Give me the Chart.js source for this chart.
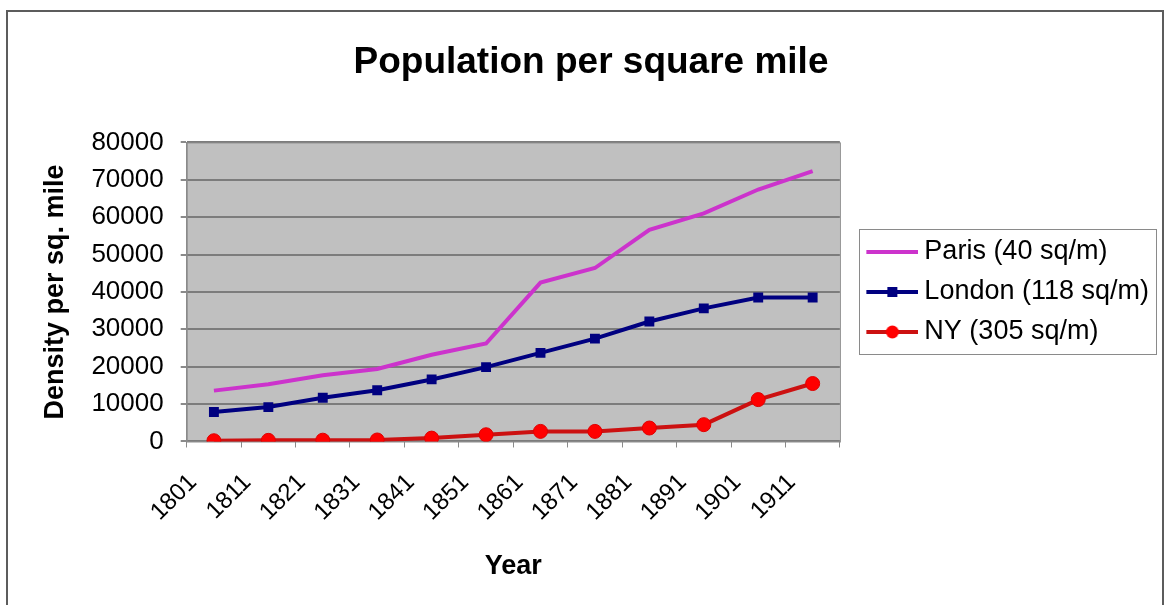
<!DOCTYPE html>
<html>
<head>
<meta charset="utf-8">
<title>Population per square mile</title>
<script src="https://cdn.jsdelivr.net/npm/chart.js@4.4.1/dist/chart.umd.min.js"></script>
<style>
    html, body { margin: 0; padding: 0; background: #fff; }
    .wrap { position: relative; width: 1165px; height: 605px; overflow: hidden; }
    .frame { position: absolute; left: 6px; top: 10px; width: 1154px; height: 640px; border: 2px solid #5c5c5c; }
    #density-chart { position: absolute; left: 0; top: 0; }
</style>
</head>
<body>
<div class="wrap">
    <div class="frame"></div>
    <canvas id="density-chart" width="1165" height="605"></canvas>
</div>
<script>
// Census years (category axis)
const years = ['1801', '1811', '1821', '1831', '1841', '1851', '1861', '1871', '1881', '1891', '1901', '1911'];

// Density per square mile
const parisDensity  = [13600, 15300, 17700, 19400, 23200, 26200, 42500, 46400, 56600, 61000, 67400, 72300];
const londonDensity = [7900, 9200, 11700, 13700, 16600, 19900, 23700, 27500, 32100, 35600, 38500, 38500];
const nyDensity     = [200, 300, 350, 400, 900, 1800, 2700, 2700, 3600, 4500, 11200, 15500];

const seriesLabels = ['Paris (40 sq/m)', 'London (118 sq/m)', 'NY (305 sq/m)'];

// Y axis: 0 .. 80000 by 10000
const yMin = 0;
const yMax = 80000;
const yStep = 10000;

(function() {
    'use strict';

    const FONT = 'Arial, "Liberation Sans", sans-serif';
    const SAMPLE_BOX = 58;   // legend box width given to Chart.js
    const SAMPLE_W = 73;     // legend sample canvas width (line sits in its right part)

    const DensityChart = {
        chart: null,

        /**
         * Initialize chart
         */
        init: function() {
            Chart.defaults.font.family = FONT;
            Chart.defaults.color = '#000';
            this.createChart();
        },

        /**
         * Legend sample: line with the series marker in the middle
         */
        legendSample: function(color, marker, fill) {
            const c = document.createElement('canvas');
            c.width = SAMPLE_W;
            c.height = 18;
            const g = c.getContext('2d');
            const x0 = SAMPLE_W - 52;
            const mid = x0 + 26;
            g.strokeStyle = color;
            g.lineWidth = 4;
            g.beginPath();
            g.moveTo(x0, 9);
            g.lineTo(SAMPLE_W, 9);
            g.stroke();
            if (marker === 'rect') {
                g.fillStyle = fill;
                g.fillRect(mid - 5, 4, 10, 10);
            } else if (marker === 'circle') {
                g.fillStyle = fill;
                g.beginPath();
                g.arc(mid, 9, 6.5, 0, Math.PI * 2);
                g.fill();
            }
            return c;
        },

        /**
         * Gray plot area + frame round the legend
         */
        decorPlugin: {
            id: 'excelDecor',
            beforeDraw: function(chart) {
                const a = chart.chartArea;
                const ctx = chart.ctx;
                ctx.save();
                ctx.fillStyle = '#c0c0c0';
                ctx.fillRect(a.left, a.top, a.right - a.left, a.bottom - a.top);
                ctx.restore();
            },
            beforeDatasetsDraw: function(chart) {
                const a = chart.chartArea;
                const ctx = chart.ctx;
                ctx.save();
                ctx.strokeStyle = '#8a8a8a';
                ctx.lineWidth = 1;
                ctx.strokeRect(a.left + 0.5, a.top + 0.5, a.right - a.left, a.bottom - a.top);
                ctx.restore();
            },
            afterDraw: function(chart) {
                const boxes = chart.legend && chart.legend.legendHitBoxes;
                if (!boxes || !boxes.length) return;
                let right = -Infinity;
                boxes.forEach(b => {
                    right = Math.max(right, b.left + b.width);
                });
                const left = chart.chartArea.right + 19;
                right = Math.min(right + 7, chart.width - 5);
                const top = boxes[0].top - 9;
                const last = boxes[boxes.length - 1];
                const bottom = last.top + last.height + 9;
                const ctx = chart.ctx;
                ctx.save();
                ctx.strokeStyle = '#8a8a8a';
                ctx.lineWidth = 1;
                ctx.strokeRect(Math.round(left) + 0.5, Math.round(top) + 0.5, Math.round(right - left), Math.round(bottom - top));
                ctx.restore();
            }
        },

        /**
         * Create the line chart
         */
        createChart: function() {
            const ctx = document.getElementById('density-chart');
            if (!ctx) return;

            const samples = [
                this.legendSample('#cc33cc', null, null),
                this.legendSample('#000080', 'rect', '#000080'),
                this.legendSample('#cc1111', 'circle', '#ff0000')
            ];

            this.chart = new Chart(ctx, {
                type: 'line',
                data: {
                    labels: years,
                    datasets: [{
                        label: seriesLabels[0],
                        data: parisDensity,
                        borderColor: '#cc33cc',
                        borderWidth: 4,
                        pointRadius: 0,
                        tension: 0
                    }, {
                        label: seriesLabels[1],
                        data: londonDensity,
                        borderColor: '#000080',
                        backgroundColor: '#000080',
                        borderWidth: 4,
                        pointStyle: 'rect',
                        pointRadius: 7,
                        pointBorderWidth: 0,
                        tension: 0
                    }, {
                        label: seriesLabels[2],
                        data: nyDensity,
                        borderColor: '#cc1111',
                        backgroundColor: '#ff0000',
                        pointBorderColor: '#e00000',
                        borderWidth: 4,
                        pointStyle: 'circle',
                        pointRadius: 7,
                        pointBorderWidth: 1,
                        tension: 0
                    }]
                },
                options: {
                    responsive: false,
                    animation: false,
                    events: [],
                    layout: {
                        padding: { left: 23, right: 6, top: 30, bottom: 6 }
                    },
                    plugins: {
                        title: {
                            display: true,
                            text: 'Population per square mile',
                            font: { size: 37, weight: 'bold' },
                            padding: { top: 11, bottom: 57 }
                        },
                        legend: {
                            position: 'right',
                            fullSize: false,
                            maxWidth: 360,
                            labels: {
                                usePointStyle: true,
                                pointStyleWidth: SAMPLE_BOX,
                                font: { size: 27 },
                                padding: 13,
                                generateLabels: function(chart) {
                                    return chart.data.datasets.map((ds, i) => ({
                                        text: ds.label,
                                        pointStyle: samples[i],
                                        datasetIndex: i,
                                        hidden: false,
                                        lineWidth: 0
                                    }));
                                }
                            }
                        },
                        tooltip: { enabled: false }
                    },
                    scales: {
                        x: {
                            type: 'category',
                            offset: true,
                            grid: {
                                offset: true,
                                drawOnChartArea: false,
                                drawTicks: true,
                                tickLength: 6,
                                tickColor: '#8a8a8a'
                            },
                            border: { color: '#8a8a8a', width: 1 },
                            ticks: {
                                minRotation: 45,
                                maxRotation: 45,
                                autoSkip: false,
                                padding: 21,
                                labelOffset: -21,
                                font: { size: 24 }
                            },
                            title: {
                                display: true,
                                text: 'Year',
                                font: { size: 27, weight: 'bold' },
                                padding: { top: 3, bottom: 16 }
                            }
                        },
                        y: {
                            min: yMin,
                            max: yMax,
                            grid: {
                                color: '#7c7c7c',
                                lineWidth: 2,
                                tickLength: 6,
                                tickColor: '#8a8a8a'
                            },
                            border: { color: '#8a8a8a', width: 1 },
                            ticks: {
                                stepSize: yStep,
                                padding: 17,
                                font: { size: 26 },
                                callback: value => String(value)
                            },
                            title: {
                                display: true,
                                text: 'Density per sq. mile',
                                font: { size: 27, weight: 'bold' },
                                padding: { top: 16, bottom: 3 }
                            }
                        }
                    }
                },
                plugins: [this.decorPlugin]
            });
        }
    };

    DensityChart.init();
})();
</script>
</body>
</html>
